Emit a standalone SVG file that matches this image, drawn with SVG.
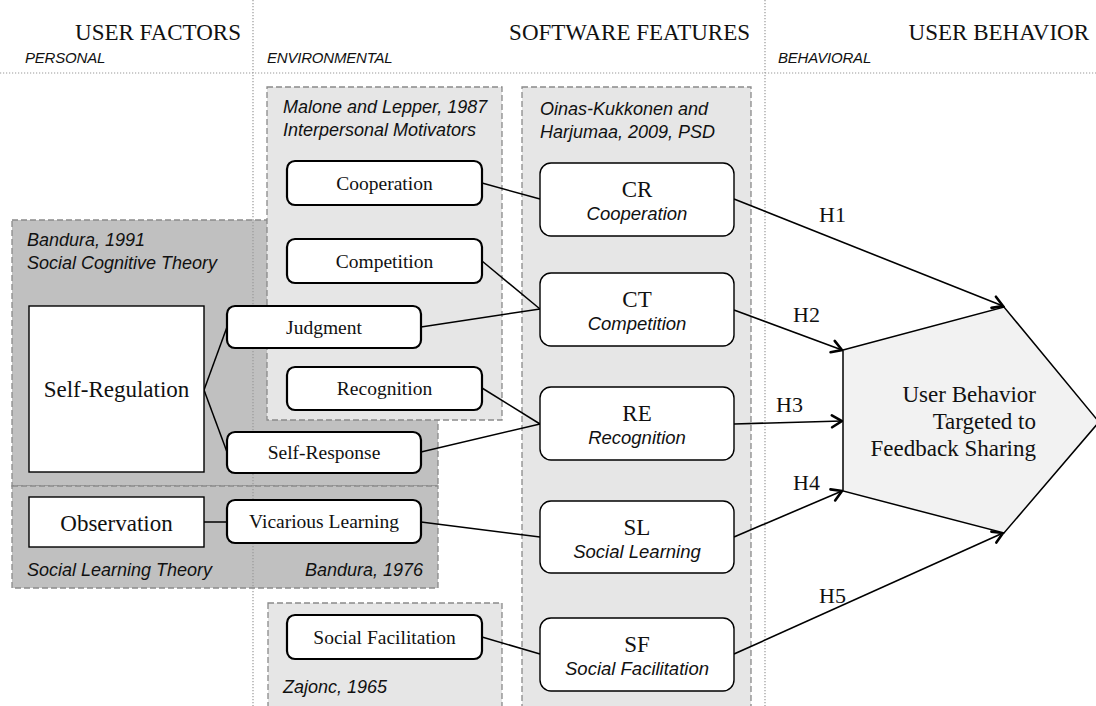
<svg xmlns="http://www.w3.org/2000/svg" width="1096" height="706" viewBox="0 0 1096 706">
<style>
.hdr{font-family:"Liberation Serif",serif;font-size:23px;fill:#111}
.sub{font-family:"Liberation Sans",sans-serif;font-style:italic;font-size:15px;fill:#111;letter-spacing:-0.2px}
.cite{font-family:"Liberation Sans",sans-serif;font-style:italic;font-size:18px;fill:#111}
.dark{fill:#c0c0c0;stroke:#8a8a8a;stroke-width:1.3;stroke-dasharray:6,3}
.light{fill:#e6e6e6;stroke:#8a8a8a;stroke-width:1.3;stroke-dasharray:6,3}
.dot{stroke:#999;stroke-width:1.2;stroke-dasharray:1.2,1.8;fill:none}
.nb{fill:#fff;stroke:#000;stroke-width:2.2}
.pb{fill:#fff;stroke:#000;stroke-width:1.4}
.sq{fill:#fff;stroke:#000;stroke-width:1.4}
.nt{font-family:"Liberation Serif",serif;font-size:19.5px;fill:#111;text-anchor:middle}
.big{font-family:"Liberation Serif",serif;font-size:23px;fill:#111;text-anchor:middle}
.pt{font-family:"Liberation Serif",serif;font-size:23px;fill:#111;text-anchor:end}
.it{font-family:"Liberation Sans",sans-serif;font-style:italic;font-size:18.5px;fill:#111;text-anchor:middle}
.hl{font-family:"Liberation Serif",serif;font-size:22px;fill:#111}
.ln{stroke:#000;stroke-width:1.5;fill:none}
.ar{stroke:#000;stroke-width:1.6;fill:none;marker-end:url(#arr)}
</style>
<defs>
<marker id="arr" markerUnits="userSpaceOnUse" markerWidth="16" markerHeight="16" viewBox="0 0 16 16" refX="14" refY="8" orient="auto">
<path d="M4,2 L14,8 L4,14" fill="none" stroke="#000" stroke-width="2.6" stroke-linecap="round" stroke-linejoin="miter"/>
</marker>
</defs>

<g id="groups">
<rect class="dark" x="12" y="220" width="426" height="266"/>
<rect class="dark" x="12" y="486" width="426" height="102"/>
<rect class="light" x="267" y="87" width="235" height="333"/>
<rect class="light" x="268" y="603" width="234" height="120"/>
<rect class="light" x="522" y="87" width="229" height="636"/>
</g>

<g id="grid">
<line class="dot" x1="253" y1="0" x2="253" y2="706"/>
<line class="dot" x1="765" y1="0" x2="765" y2="706"/>
<line class="dot" x1="0" y1="73" x2="1096" y2="73"/>
</g>

<g id="headers">
<text class="hdr" x="241" y="40" text-anchor="end">USER FACTORS</text>
<text class="hdr" x="750" y="40" text-anchor="end">SOFTWARE FEATURES</text>
<text class="hdr" x="1089" y="40" text-anchor="end">USER BEHAVIOR</text>
<text class="sub" x="25" y="63">PERSONAL</text>
<text class="sub" x="267" y="63">ENVIRONMENTAL</text>
<text class="sub" x="778" y="63">BEHAVIORAL</text>
</g>

<g id="group-labels">
<text class="cite" x="283" y="113">Malone and Lepper, 1987</text>
<text class="cite" x="283" y="136">Interpersonal Motivators</text>
<text class="cite" x="540" y="115">Oinas-Kukkonen and</text>
<text class="cite" x="540" y="138">Harjumaa, 2009, PSD</text>
<text class="cite" x="27" y="246">Bandura, 1991</text>
<text class="cite" x="27" y="269">Social Cognitive Theory</text>
<text class="cite" x="27" y="576">Social Learning Theory</text>
<text class="cite" x="423" y="576" text-anchor="end">Bandura, 1976</text>
<text class="cite" x="283" y="693">Zajonc, 1965</text>
</g>

<g id="connectors">
<line class="ln" x1="482" y1="183" x2="540" y2="199"/>
<line class="ln" x1="482" y1="261" x2="540" y2="309"/>
<line class="ln" x1="421" y1="327" x2="540" y2="309"/>
<line class="ln" x1="482" y1="388" x2="540" y2="424"/>
<line class="ln" x1="421" y1="452" x2="540" y2="424"/>
<line class="ln" x1="204" y1="390" x2="227" y2="327"/>
<line class="ln" x1="204" y1="390" x2="227" y2="452"/>
<line class="ln" x1="204" y1="522" x2="227" y2="522"/>
<line class="ln" x1="421" y1="522" x2="540" y2="537"/>
<line class="ln" x1="482" y1="637" x2="540" y2="654"/>
<line class="ar" x1="734" y1="199" x2="1003" y2="306"/>
<line class="ar" x1="734" y1="310" x2="842" y2="350"/>
<line class="ar" x1="734" y1="424" x2="842" y2="421"/>
<line class="ar" x1="734" y1="537" x2="842" y2="491"/>
<line class="ar" x1="734" y1="654" x2="1003" y2="533"/>
<text class="hl" x="819" y="222">H1</text>
<text class="hl" x="793" y="322">H2</text>
<text class="hl" x="776" y="412">H3</text>
<text class="hl" x="793" y="490">H4</text>
<text class="hl" x="819" y="603">H5</text>
</g>

<g id="n-cooperation"><rect class="nb" x="287" y="161" width="195" height="44" rx="8"/><text class="nt" x="384.5" y="190">Cooperation</text></g>
<g id="n-competition"><rect class="nb" x="287" y="239" width="195" height="44" rx="8"/><text class="nt" x="384.5" y="268">Competition</text></g>
<g id="n-recognition"><rect class="nb" x="287" y="367" width="195" height="43" rx="8"/><text class="nt" x="384.5" y="395">Recognition</text></g>
<g id="n-judgment"><rect class="nb" x="227" y="306" width="194" height="42" rx="8"/><text class="nt" x="324" y="334">Judgment</text></g>
<g id="n-selfresponse"><rect class="nb" x="227" y="432" width="194" height="41" rx="8"/><text class="nt" x="324" y="459">Self-Response</text></g>
<g id="n-vicarious"><rect class="nb" x="227" y="500" width="194" height="43" rx="8"/><text class="nt" x="324" y="528">Vicarious Learning</text></g>
<g id="n-socialfac"><rect class="nb" x="287" y="615" width="195" height="44" rx="8"/><text class="nt" x="384.5" y="644">Social Facilitation</text></g>
<g id="n-selfregulation"><rect class="sq" x="29" y="306" width="175" height="166"/><text class="big" x="116.5" y="397">Self-Regulation</text></g>
<g id="n-observation"><rect class="sq" x="29" y="497" width="175" height="50"/><text class="big" x="116.5" y="531">Observation</text></g>

<g id="n-cr"><rect class="pb" x="540" y="163" width="194" height="73" rx="11"/><text class="big" x="637" y="197">CR</text><text class="it" x="637" y="220">Cooperation</text></g>
<g id="n-ct"><rect class="pb" x="540" y="273" width="194" height="73" rx="11"/><text class="big" x="637" y="307">CT</text><text class="it" x="637" y="330">Competition</text></g>
<g id="n-re"><rect class="pb" x="540" y="387" width="194" height="73" rx="11"/><text class="big" x="637" y="421">RE</text><text class="it" x="637" y="444">Recognition</text></g>
<g id="n-sl"><rect class="pb" x="540" y="501" width="194" height="72" rx="11"/><text class="big" x="637" y="535">SL</text><text class="it" x="637" y="558">Social Learning</text></g>
<g id="n-sf"><rect class="pb" x="540" y="618" width="194" height="73" rx="11"/><text class="big" x="637" y="652">SF</text><text class="it" x="637" y="675">Social Facilitation</text></g>

<g id="n-behavior">
<polygon points="843,350 1004,307 1099,422 1004,533 843,491" fill="#f2f2f2" stroke="#000" stroke-width="1.5"/>
<text class="pt" x="1036" y="402">User Behavior</text>
<text class="pt" x="1036" y="429">Targeted to</text>
<text class="pt" x="1036" y="456">Feedback Sharing</text>
</g>
</svg>
